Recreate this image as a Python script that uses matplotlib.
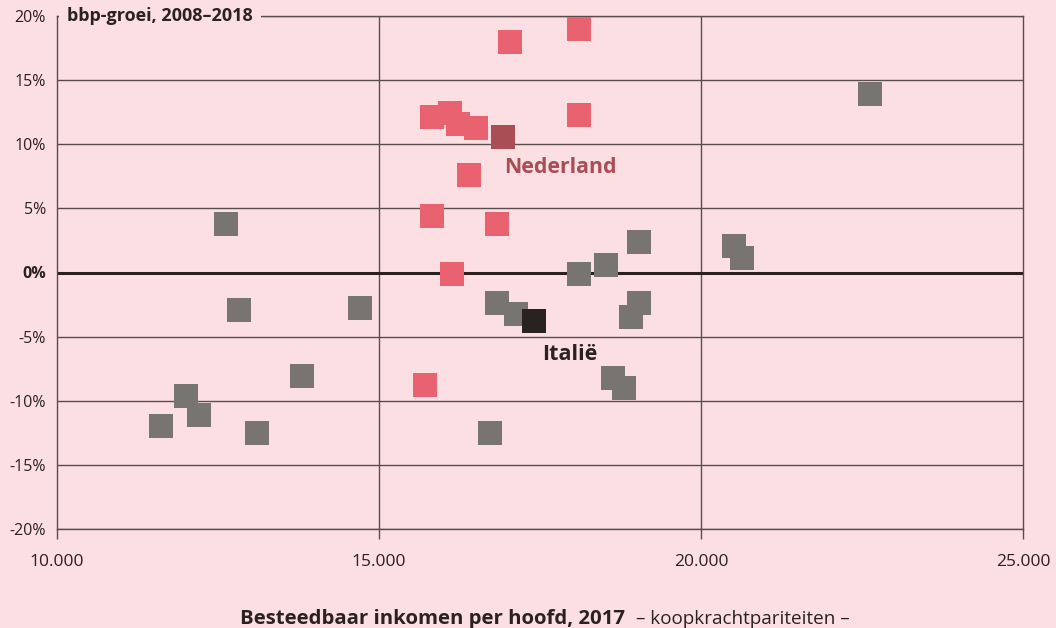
import matplotlib.pyplot as plt
from matplotlib.ticker import FuncFormatter

# landen (roze = groep rond Nederland, grijs = overige landen)
red_x = [15820, 16110, 16220, 16500, 18110, 16400, 15820, 16830, 17030, 18110, 16130, 15720]
red_y = [12.1, 12.4, 11.6, 11.3, 12.25, 7.6, 4.4, 3.8, 17.95, 18.95, -0.15, -8.75]

gray_x = [19030, 18110, 18530, 16830, 17120, 19030, 18920, 18630, 18810, 12010, 12210,
          11610, 13110, 13810, 12620, 12820, 14710, 16720, 20520, 20630, 22630]
gray_y = [2.35, -0.1, 0.6, -2.35, -3.2, -2.35, -3.5, -8.2, -9.0, -9.6, -11.1,
          -11.95, -12.55, -8.1, 3.8, -2.9, -2.75, -12.55, 2.1, 1.1, 13.9]

nl_x, nl_y = [16920], [10.6]
it_x, it_y = [17410], [-3.75]

x_ticks = [10000, 15000, 20000, 25000]
y_ticks = [-20, -15, -10, -5, 0, 5, 10, 15, 20]

BG = '#fbdfe2'
GRID = '#5a4d4d'
TEXT = '#2b2220'

plt.rcParams['font.family'] = ['Open Sans', 'DejaVu Sans']

fig = plt.figure(figsize=(10.56, 6.28), dpi=100, facecolor=BG)
ax = fig.add_axes([57 / 1056, 1 - 529 / 628, 966 / 1056, 513 / 628], facecolor=BG)

ax.set_xlim(10000, 25000)
ax.set_ylim(-20, 20)

# raster
for yv in y_ticks:
    if yv == 0:
        ax.axhline(0, color='#2b201e', lw=2.2, zorder=1.5)
    else:
        ax.axhline(yv, color=GRID, lw=1.0, zorder=1)
for xv in x_ticks[1:-1]:
    ax.axvline(xv, color=GRID, lw=1.0, zorder=1)

msize = 16.6 ** 2
ax.scatter(gray_x, gray_y, s=msize, marker='s', color='#78746f', lw=0, zorder=3)
ax.scatter(red_x, red_y, s=msize, marker='s', color='#e9626f', lw=0, zorder=3)
ax.scatter(nl_x, nl_y, s=msize, marker='s', color='#a94e54', lw=0, zorder=4)
ax.scatter(it_x, it_y, s=msize, marker='s', color='#2a221f', lw=0, zorder=4)

ax.text(16950, 8.2, 'Nederland', color='#a94e54', fontsize=15.3, fontweight='bold',
        ha='left', va='center', zorder=5)
ax.text(17540, -6.4, 'Italië', color=TEXT, fontsize=15.5, fontweight='bold',
        ha='left', va='center', zorder=5)

for sp in ax.spines.values():
    sp.set_color(GRID)
    sp.set_linewidth(1.0)

ax.set_xticks(x_ticks)
ax.set_yticks(y_ticks)
ax.xaxis.set_major_formatter(FuncFormatter(lambda v, p: f'{int(v):,}'.replace(',', '.')))
ax.yaxis.set_major_formatter(FuncFormatter(lambda v, p: f'{int(v)}%'))
ax.tick_params(axis='x', direction='out', length=7, width=1.0, color=GRID,
               pad=11, labelsize=12.5, labelcolor=TEXT)
ax.tick_params(axis='y', length=0, pad=8, labelsize=11.5, labelcolor=TEXT)
for lbl in ax.get_yticklabels():
    if lbl.get_text() == '0%':
        lbl.set_fontweight('bold')

# titel in de linkerbovenhoek, over de bovenrand heen
fig.text(67 / 1056, 1 - 16 / 628, 'bbp-groei, 2008–2018', fontsize=13,
         fontweight='bold', color=TEXT, ha='left', va='center', zorder=10,
         bbox=dict(boxstyle='square,pad=0.45', facecolor=BG, edgecolor='none'))

# x-as titel
t1 = fig.text(240 / 1056, 4 / 628, 'Besteedbaar inkomen per hoofd, 2017', fontsize=14.7,
              fontweight='bold', color=TEXT, ha='left', va='baseline')
fig.canvas.draw()
bb = t1.get_window_extent()
fig.text((bb.x1 + 11) / 1056, 4 / 628, '– koopkrachtpariteiten –', fontsize=13.6,
         color=TEXT, ha='left', va='baseline')

fig.savefig('out.png', dpi=100, facecolor=BG)
